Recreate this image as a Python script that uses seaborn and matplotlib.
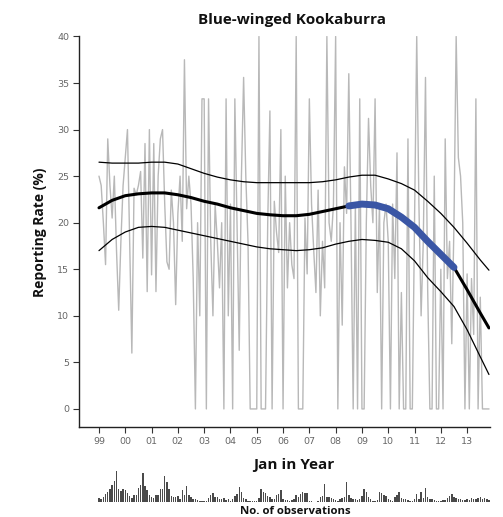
import numpy as np
import pandas as pd
import matplotlib
matplotlib.use("Agg")
import matplotlib.pyplot as plt
import seaborn as sns

# ---- data ----
title = "Blue-winged Kookaburra"
year_labels = ["99", "00", "01", "02", "03", "04", "05", "06", "07", "08", "09", "10", "11", "12", "13"]
y_ticks = [0, 5, 10, 15, 20, 25, 30, 35, 40]

# monthly reporting rate (%), Jan 1999 .. Nov 2013
rate_1999 = [25, 24, 20, 15.5, 29, 24, 20.5, 25, 17, 10.6, 18, 24]
rate_2000 = [27, 30, 18, 6, 23.7, 23, 24, 25.5, 16.2, 28.5, 12.6, 30]
rate_2001 = [14.4, 28.5, 12.6, 25, 29, 30, 22, 15.8, 15, 23.5, 20, 11.2]
rate_2002 = [21, 25, 18, 37.5, 21.5, 25, 22, 14, 0, 20, 10, 33.3]
rate_2003 = [33.3, 0, 33.3, 18, 10, 22, 18, 13, 20, 0, 33.3, 10]
rate_2004 = [22, 0, 33.3, 20, 6.3, 25, 35.6, 25, 18, 0, 0, 0]
rate_2005 = [0, 40, 0, 0, 0, 20, 32, 0, 22.3, 19, 16.8, 30]
rate_2006 = [0, 25, 13, 20, 15.5, 14, 40, 0, 0, 0, 20.5, 14.5]
rate_2007 = [33.3, 22, 17, 12.5, 23.5, 10, 18, 13, 40, 20, 18, 22]
rate_2008 = [40, 0, 20, 9, 26, 21, 36, 20, 0, 22, 0, 33.3]
rate_2009 = [0, 0, 20, 31.2, 24, 20, 33.3, 12.5, 22, 0, 20, 22]
rate_2010 = [18, 0, 22, 14, 27.5, 0, 12.5, 0, 0, 29, 0, 0]
rate_2011 = [20, 40, 22, 10, 18, 35.6, 12.8, 0, 0, 25, 0, 0]
rate_2012 = [15, 0, 29, 14, 18, 7, 20, 40, 27, 25, 20, 0]
rate_2013 = [14.5, 0, 14, 8, 33.3, 0, 12, 0, 0, 0, 0]

# number of observations per month (relative units)
obs_1999 = [12, 10, 16, 24, 30, 38, 50, 62, 92, 40, 33, 38]
obs_2000 = [35, 28, 18, 12, 20, 22, 42, 50, 85, 48, 35, 22]
obs_2001 = [16, 12, 22, 20, 38, 40, 78, 60, 40, 18, 15, 16]
obs_2002 = [18, 10, 35, 22, 48, 20, 15, 8, 8, 5, 4, 3]
obs_2003 = [2, 3, 12, 22, 28, 16, 14, 10, 8, 12, 6, 10]
obs_2004 = [4, 8, 18, 25, 46, 30, 12, 10, 3, 2, 3, 2]
obs_2005 = [3, 12, 38, 30, 28, 18, 16, 10, 10, 22, 25, 35]
obs_2006 = [8, 6, 5, 4, 6, 10, 20, 15, 25, 30, 28, 26]
obs_2007 = [2, 2, 1, 1, 2, 14, 18, 52, 15, 14, 12, 8]
obs_2008 = [6, 4, 8, 12, 15, 58, 22, 12, 10, 8, 5, 10]
obs_2009 = [18, 40, 30, 15, 10, 2, 2, 5, 30, 28, 22, 18]
obs_2010 = [8, 5, 4, 14, 20, 30, 12, 10, 8, 6, 3, 4]
obs_2011 = [10, 24, 8, 30, 12, 42, 15, 10, 8, 6, 4, 3]
obs_2012 = [4, 5, 6, 12, 18, 25, 16, 12, 10, 8, 6, 5]
obs_2013 = [8, 7, 12, 8, 10, 12, 14, 10, 12, 8, 6]

# smoothed trend (half-year steps) with confidence band
trend_time = [1999.0, 1999.5, 2000.0, 2000.5, 2001.0, 2001.5, 2002.0, 2002.5, 2003.0, 2003.5,
              2004.0, 2004.5, 2005.0, 2005.5, 2006.0, 2006.5, 2007.0, 2007.5, 2008.0, 2008.5,
              2009.0, 2009.5, 2010.0, 2010.5, 2011.0, 2011.5, 2012.0, 2012.5, 2013.0, 2013.5, 2013.83]
trend_mean = [21.6, 22.4, 22.9, 23.1, 23.2, 23.2, 23.0, 22.7, 22.3, 22.0,
              21.6, 21.3, 21.0, 20.85, 20.75, 20.75, 20.9, 21.2, 21.5, 21.8,
              22.0, 21.9, 21.5, 20.6, 19.5, 18.0, 16.6, 15.2, 12.8, 10.3, 8.7]
trend_upper = [26.5, 26.4, 26.4, 26.4, 26.5, 26.5, 26.3, 25.8, 25.3, 24.9,
               24.6, 24.4, 24.3, 24.3, 24.3, 24.3, 24.3, 24.4, 24.6, 24.9,
               25.1, 25.1, 24.7, 24.2, 23.5, 22.3, 21.0, 19.5, 17.8, 16.0, 14.9]
trend_lower = [17.0, 18.2, 19.0, 19.5, 19.6, 19.5, 19.2, 18.9, 18.6, 18.3,
               18.0, 17.7, 17.4, 17.2, 17.1, 17.0, 17.1, 17.3, 17.7, 18.0,
               18.2, 18.1, 17.9, 17.2, 15.9, 14.1, 12.6, 11.0, 8.5, 5.6, 3.7]
highlight_start, highlight_end = 2008.5, 2012.5

# ---- assemble ----
rate = np.array(rate_1999 + rate_2000 + rate_2001 + rate_2002 + rate_2003 + rate_2004 + rate_2005 +
                rate_2006 + rate_2007 + rate_2008 + rate_2009 + rate_2010 + rate_2011 + rate_2012 + rate_2013)
obs = np.array(obs_1999 + obs_2000 + obs_2001 + obs_2002 + obs_2003 + obs_2004 + obs_2005 +
               obs_2006 + obs_2007 + obs_2008 + obs_2009 + obs_2010 + obs_2011 + obs_2012 + obs_2013)
t = 1999 + np.arange(len(rate)) / 12.0
t_obs = 1999 + np.arange(len(obs)) / 12.0
tt = np.array(trend_time)
tm = np.array(trend_mean)
hl = (tt >= highlight_start) & (tt <= highlight_end)

sns.set_theme(style="white")
plt.rcParams["font.family"] = ["Open Sans", "DejaVu Sans"]

W, H = 503, 517
fig = plt.figure(figsize=(W / 100, H / 100), dpi=100)
ax = fig.add_axes([79 / W, 1 - 427 / H, (490 - 79) / W, (427 - 36) / H])

sns.lineplot(x=t, y=rate, color="#b8b8b8", lw=1.0, ax=ax)
sns.lineplot(x=tt, y=trend_upper, color="black", lw=0.9, ax=ax)
sns.lineplot(x=tt, y=trend_lower, color="black", lw=0.9, ax=ax)
sns.lineplot(x=tt, y=tm, color="black", lw=2.2, ax=ax)
sns.lineplot(x=tt[hl], y=tm[hl], color="#3a56a5", lw=5.0, ax=ax)

ax.set_xlim(1998.24, 2013.87)
ax.set_ylim(-1.94, 40.05)
ax.set_xticks(np.arange(1999, 2014))
ax.set_xticklabels(year_labels)
ax.set_yticks(y_ticks)
ax.set_yticklabels([str(v) for v in y_ticks])
ax.set_xlabel("")
ax.set_ylabel("")
sns.despine(ax=ax)
for s in ["left", "bottom"]:
    ax.spines[s].set_color("#222222")
    ax.spines[s].set_linewidth(1.0)
ax.tick_params(axis="both", which="both", bottom=True, left=True, direction="out",
               length=4, width=0.8, color="#333333", labelcolor="#666666", labelsize=7, pad=3)
for lab in ax.get_xticklabels() + ax.get_yticklabels():
    lab.set_family(["DejaVu Sans"])
    lab.set_fontsize(6.8)

# observations histogram
hax = fig.add_axes([79 / W, 1 - 502 / H, (490 - 79) / W, 32 / H])
hax.bar(t_obs, obs, width=0.055, color="#4a4a4a", linewidth=0)
hax.set_xlim(1998.24, 2013.87)
hax.set_ylim(0, 95)
hax.axis("off")

fig.text(292 / W, 1 - 20 / H, title, ha="center", va="center", fontsize=11, fontweight="bold", color="#111111")
fig.text(294 / W, 1 - 465 / H, "Jan in Year", ha="center", va="center", fontsize=11, fontweight="bold", color="#111111")
fig.text(295 / W, 1 - 512 / H, "No. of observations", ha="center", va="center", fontsize=8.2, fontweight="bold", color="#111111")
fig.text(40 / W, 1 - 232 / H, "Reporting Rate (%)", ha="center", va="center", rotation=90, fontsize=10, fontweight="bold", color="#111111")

fig.savefig("out.png", dpi=100)
